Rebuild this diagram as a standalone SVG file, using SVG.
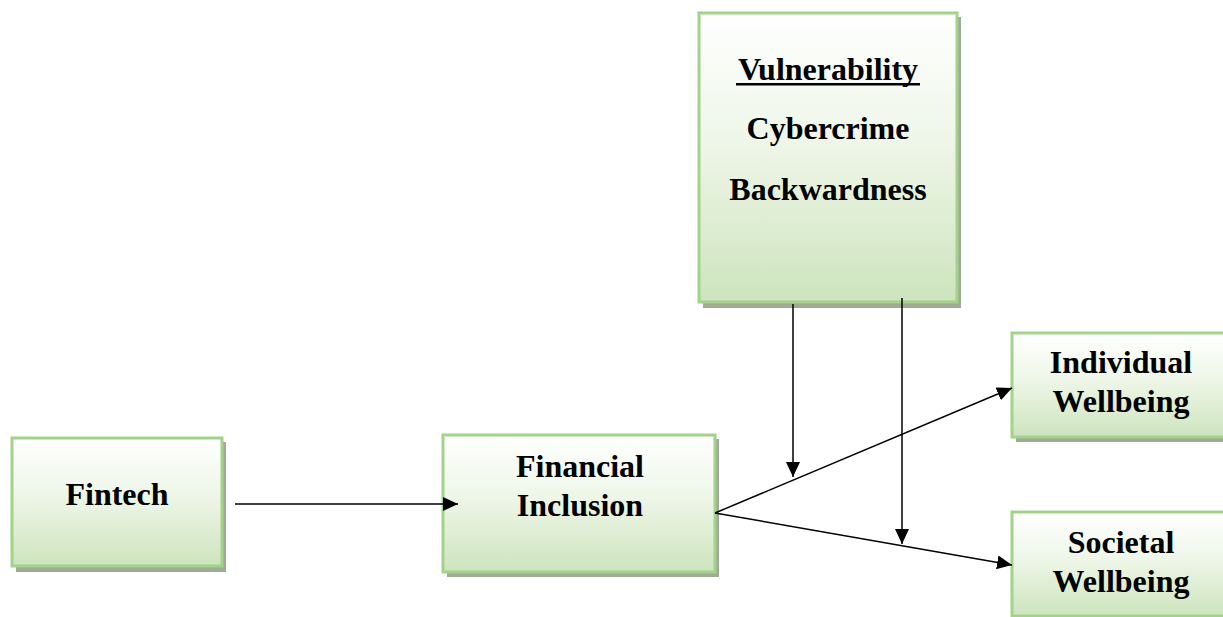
<svg xmlns="http://www.w3.org/2000/svg" width="1223" height="617" viewBox="0 0 1223 617">
  <defs>
    <linearGradient id="boxFill" x1="0" y1="0" x2="0" y2="1">
      <stop offset="0" stop-color="#ffffff"/>
      <stop offset="0.45" stop-color="#eef6e8"/>
      <stop offset="1" stop-color="#cde4bd"/>
    </linearGradient>
    <marker id="arrow" viewBox="0 0 15 14" refX="15" refY="7" markerWidth="15" markerHeight="14" markerUnits="userSpaceOnUse" orient="auto">
      <path d="M0,0 L15,7 L0,14 Z" fill="#000"/>
    </marker>
  </defs>
  <style>
    .shadow { fill: #9fab94; }
    .box { fill: url(#boxFill); stroke: #a3d28a; stroke-width: 3; }
    .label { font-family: "Liberation Serif", "Times New Roman", serif; font-weight: bold; font-size: 32px; fill: #000; text-anchor: middle; }
    .conn { stroke: #000; stroke-width: 1.5; fill: none; marker-end: url(#arrow); }
  </style>
  <rect width="1223" height="617" fill="#ffffff"/>

  <g id="fintech">
    <rect class="shadow" x="16" y="442" width="210" height="130"/>
    <rect class="box" x="12" y="438" width="210" height="128"/>
    <text class="label" x="117" y="505">Fintech</text>
  </g>

  <g id="financial-inclusion">
    <rect class="shadow" x="447" y="439" width="272" height="138"/>
    <rect class="box" x="443" y="435" width="272" height="137"/>
    <text class="label" x="580" y="477">Financial</text>
    <text class="label" x="580" y="516">Inclusion</text>
  </g>

  <g id="vulnerability">
    <rect class="shadow" x="703" y="17" width="258" height="291"/>
    <rect class="box" x="699" y="13" width="258" height="289"/>
    <text class="label" x="828" y="80">Vulnerability</text>
    <rect x="736" y="83" width="184" height="2.5" fill="#000"/>
    <text class="label" x="828" y="139">Cybercrime</text>
    <text class="label" x="828" y="200">Backwardness</text>
  </g>

  <g id="individual-wellbeing">
    <rect class="shadow" x="1016" y="337" width="220" height="105"/>
    <rect class="box" x="1012" y="333" width="220" height="104"/>
    <text class="label" x="1121" y="373">Individual</text>
    <text class="label" x="1121" y="412">Wellbeing</text>
  </g>

  <g id="societal-wellbeing">
    <rect class="shadow" x="1016" y="516" width="220" height="105"/>
    <rect class="box" x="1012" y="512" width="220" height="104"/>
    <text class="label" x="1121" y="553">Societal</text>
    <text class="label" x="1121" y="592">Wellbeing</text>
  </g>

  <g id="connectors">
    <line class="conn" x1="235" y1="504" x2="458" y2="504"/>
    <line class="conn" x1="715" y1="513" x2="1012" y2="388"/>
    <line class="conn" x1="715" y1="513" x2="1012" y2="565"/>
    <line class="conn" x1="793" y1="304" x2="793" y2="477"/>
    <line class="conn" x1="902" y1="298" x2="902" y2="544"/>
  </g>
</svg>
